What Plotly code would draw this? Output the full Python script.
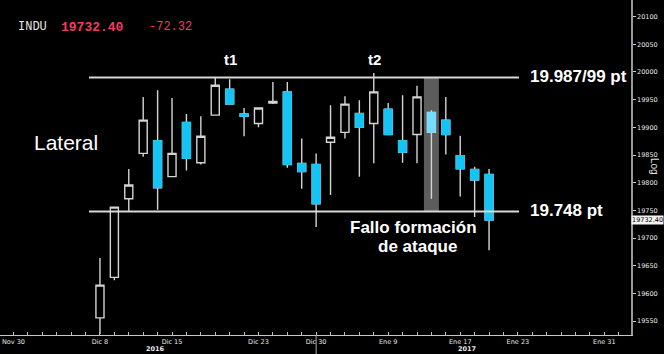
import pandas as pd
import plotly.graph_objects as go

# ---------------- data ----------------
dates = ["2016-12-08", "2016-12-09", "2016-12-12", "2016-12-13", "2016-12-14", "2016-12-15",
         "2016-12-16", "2016-12-19", "2016-12-20", "2016-12-21", "2016-12-22", "2016-12-23",
         "2016-12-27", "2016-12-28", "2016-12-29", "2016-12-30", "2017-01-03", "2017-01-04",
         "2017-01-05", "2017-01-06", "2017-01-09", "2017-01-10", "2017-01-11", "2017-01-12",
         "2017-01-13", "2017-01-17", "2017-01-18", "2017-01-19"]
opens = [19556, 19629, 19771, 19853, 19876, 19811, 19909, 19836, 19922, 19969, 19924, 19907,
         19944, 19964, 19835, 19833, 19873, 19891, 19925, 19907, 19933, 19876, 19887, 19927,
         19913, 19849, 19824, 19815]
highs = [19664, 19757, 19825, 19955, 19967, 19953, 19924, 19920, 19989, 19987, 19935, 19936,
         19982, 19982, 19880, 19853, 19940, 19956, 19949, 19998, 19944, 19958, 19975, 19931,
         19955, 19885, 19829, 19825]
lows = [19527, 19624, 19747, 19847, 19751, 19811, 19822, 19833, 19921, 19941, 19884, 19900,
        19942, 19827, 19789, 19720, 19778, 19880, 19811, 19835, 19886, 19836, 19835, 19771,
        19851, 19775, 19738, 19678]
closes = [19615, 19756, 19796, 19913, 19791, 19853, 19844, 19884, 19976, 19942, 19920, 19935,
          19947, 19833, 19820, 19762, 19882, 19942, 19900, 19964, 19887, 19855, 19955, 19891,
          19887, 19825, 19805, 19732.40]

highlight_date = "2017-01-12"
resistance = 19990
support = 19748
last_price = 19732.40
change = -72.32

tick_dates = ["2016-11-30", "2016-12-08", "2016-12-15", "2016-12-23", "2016-12-30",
              "2017-01-09", "2017-01-17", "2017-01-23", "2017-01-31"]
tick_labels = ["Nov 30", "Dic 8", "Dic 15", "Dic 23", "Dic 30", "Ene 9", "Ene 17", "Ene 23", "Ene 31"]
y_ticks = [19550, 19600, 19650, 19700, 19750, 19800, 19850, 19900, 19950, 20000, 20050, 20100]
holidays = ["2016-12-26", "2017-01-02", "2017-01-16"]

# trading-day calendar (x axis in trading-day units)
cal = pd.bdate_range("2016-11-30", "2017-02-03")
cal = cal[~cal.isin(pd.to_datetime(holidays))]
pos = lambda d: int(cal.get_loc(pd.Timestamp(d)))
xs = [pos(d) for d in dates]
hi_idx = dates.index(highlight_date)

CYAN = "#14c4f5"
LCYAN = "#73dcff"
WICK = "#d4d4d4"

fig = go.Figure()
# all candles: wicks + outlines
normal = [i for i in range(len(dates)) if i != hi_idx]
fig.add_trace(go.Candlestick(
    x=[xs[i] for i in normal], open=[opens[i] for i in normal], high=[highs[i] for i in normal],
    low=[lows[i] for i in normal], close=[closes[i] for i in normal],
    increasing=dict(line=dict(color=WICK, width=1.4), fillcolor="black"),
    decreasing=dict(line=dict(color=WICK, width=1.4), fillcolor=CYAN),
    showlegend=False, hoverinfo="skip"))
# cyan bodies on top (no wicks)
dec = [i for i in normal if closes[i] < opens[i]]
fig.add_trace(go.Candlestick(
    x=[xs[i] for i in dec], open=[opens[i] for i in dec], high=[opens[i] for i in dec],
    low=[closes[i] for i in dec], close=[closes[i] for i in dec],
    increasing=dict(line=dict(color=CYAN, width=1), fillcolor=CYAN),
    decreasing=dict(line=dict(color=CYAN, width=1), fillcolor=CYAN),
    showlegend=False, hoverinfo="skip"))
# highlighted candle
fig.add_trace(go.Candlestick(
    x=[xs[hi_idx]], open=[opens[hi_idx]], high=[highs[hi_idx]], low=[lows[hi_idx]], close=[closes[hi_idx]],
    increasing=dict(line=dict(color=WICK, width=1.4), fillcolor=LCYAN),
    decreasing=dict(line=dict(color=WICK, width=1.4), fillcolor=LCYAN),
    showlegend=False, hoverinfo="skip"))
fig.add_trace(go.Candlestick(
    x=[xs[hi_idx]], open=[opens[hi_idx]], high=[opens[hi_idx]], low=[closes[hi_idx]], close=[closes[hi_idx]],
    increasing=dict(line=dict(color=LCYAN, width=1), fillcolor=LCYAN),
    decreasing=dict(line=dict(color=LCYAN, width=1), fillcolor=LCYAN),
    showlegend=False, hoverinfo="skip"))

PW, PH = 631, 335
def px(x):
    return x / PW
def py(y):
    return (PH - y) / PH

FONT = "Liberation Sans, Arial, sans-serif"
ann = []
def text(t, x, y, size, color="white", bold=False, xanchor="left", family=FONT, **kw):
    ann.append(dict(text=("<b>%s</b>" % t) if bold else t, x=px(x), y=py(y), xref="paper", yref="paper",
                    xanchor=xanchor, yanchor="middle", showarrow=False,
                    font=dict(size=size, color=color, family=family), **kw))

MONO = "Liberation Mono, DejaVu Sans Mono, monospace"
text("INDU", 16, 27, 12, "#e6e6e6", family=MONO)
text("%.2f" % last_price, 59, 27, 13, "#f03c64", bold=True, family=MONO)
text("%.2f" % change, 147, 27, 12, "#f03c64", family=MONO)
text("t1", 230, 59, 15, bold=True, xanchor="center")
text("t2", 374, 59, 15, bold=True, xanchor="center")
text("Lateral", 32, 142, 21)
text("19.987/99 pt", 528, 76, 17, bold=True)
text("19.748 pt", 528, 210, 17, bold=True)
text("Fallo formación", 413, 228, 17, bold=True, xanchor="center")
text("de ataque", 417, 246, 17, bold=True, xanchor="center")
text("Log", 655, 166, 10, "#e0e0e0", xanchor="center", textangle=90)
text("2016", 155, 349, 6.5, "#e8e8e8", bold=True, xanchor="center", family="DejaVu Sans, sans-serif")
text("2017", 467, 349, 6.5, "#e8e8e8", bold=True, xanchor="center", family="DejaVu Sans, sans-serif")
ann.append(dict(text="%.2f" % last_price, x=1.0, y=last_price, xref="paper", yref="y",
                xanchor="left", yanchor="middle", showarrow=False, bgcolor="#f2f2f2",
                borderpad=0, font=dict(size=6.5, color="black", family="DejaVu Sans, sans-serif")))

line_x0 = (89 - 13.5) / 14.41
line_x1 = (519 - 13.5) / 14.41
shapes = [
    dict(type="rect", xref="x", yref="y", x0=xs[hi_idx] - 0.52, x1=xs[hi_idx] + 0.52,
         y0=support, y1=resistance, fillcolor="#5c5c5c", line=dict(width=0), layer="below"),
    dict(type="line", xref="x", yref="y", x0=line_x0, x1=line_x1, y0=resistance, y1=resistance,
         line=dict(color="#d8d8d8", width=2)),
    dict(type="line", xref="x", yref="y", x0=line_x0, x1=line_x1, y0=support, y1=support,
         line=dict(color="#d8d8d8", width=2)),
    dict(type="line", xref="x", yref="paper", x0=pos("2016-12-30"), x1=pos("2016-12-30"),
         y0=-0.057, y1=0, line=dict(color="#aaaaaa", width=1)),
]

fig.update_layout(
    width=664, height=354,
    margin=dict(l=0, r=33, t=0, b=19),
    paper_bgcolor="black", plot_bgcolor="black",
    boxgap=0.2,
    annotations=ann, shapes=shapes,
    xaxis=dict(range=[-0.937, 42.85], rangeslider=dict(visible=False),
               tickvals=[pos(d) for d in tick_dates], ticktext=tick_labels,
               ticks="inside", ticklen=3, tickcolor="#bbbbbb", tickwidth=1,
               minor=dict(dtick=1, tick0=0, ticks="inside", ticklen=3, tickcolor="#bbbbbb"),
               showline=True, linecolor="#c8c8c8", linewidth=1,
               showgrid=False, zeroline=False,
               tickfont=dict(size=6.5, color="#e8e8e8", family="DejaVu Sans, sans-serif")),
    yaxis=dict(side="right", range=[19525, 20130], tickvals=y_ticks,
               ticktext=[str(v) for v in y_ticks],
               ticks="outside", ticklen=3, tickcolor="#cccccc",
               showline=True, linecolor="#999999", linewidth=1.5,
               showgrid=False, zeroline=False,
               tickfont=dict(size=6.5, color="#e8e8e8", family="DejaVu Sans, sans-serif")),
)

fig.write_html("out.html")
